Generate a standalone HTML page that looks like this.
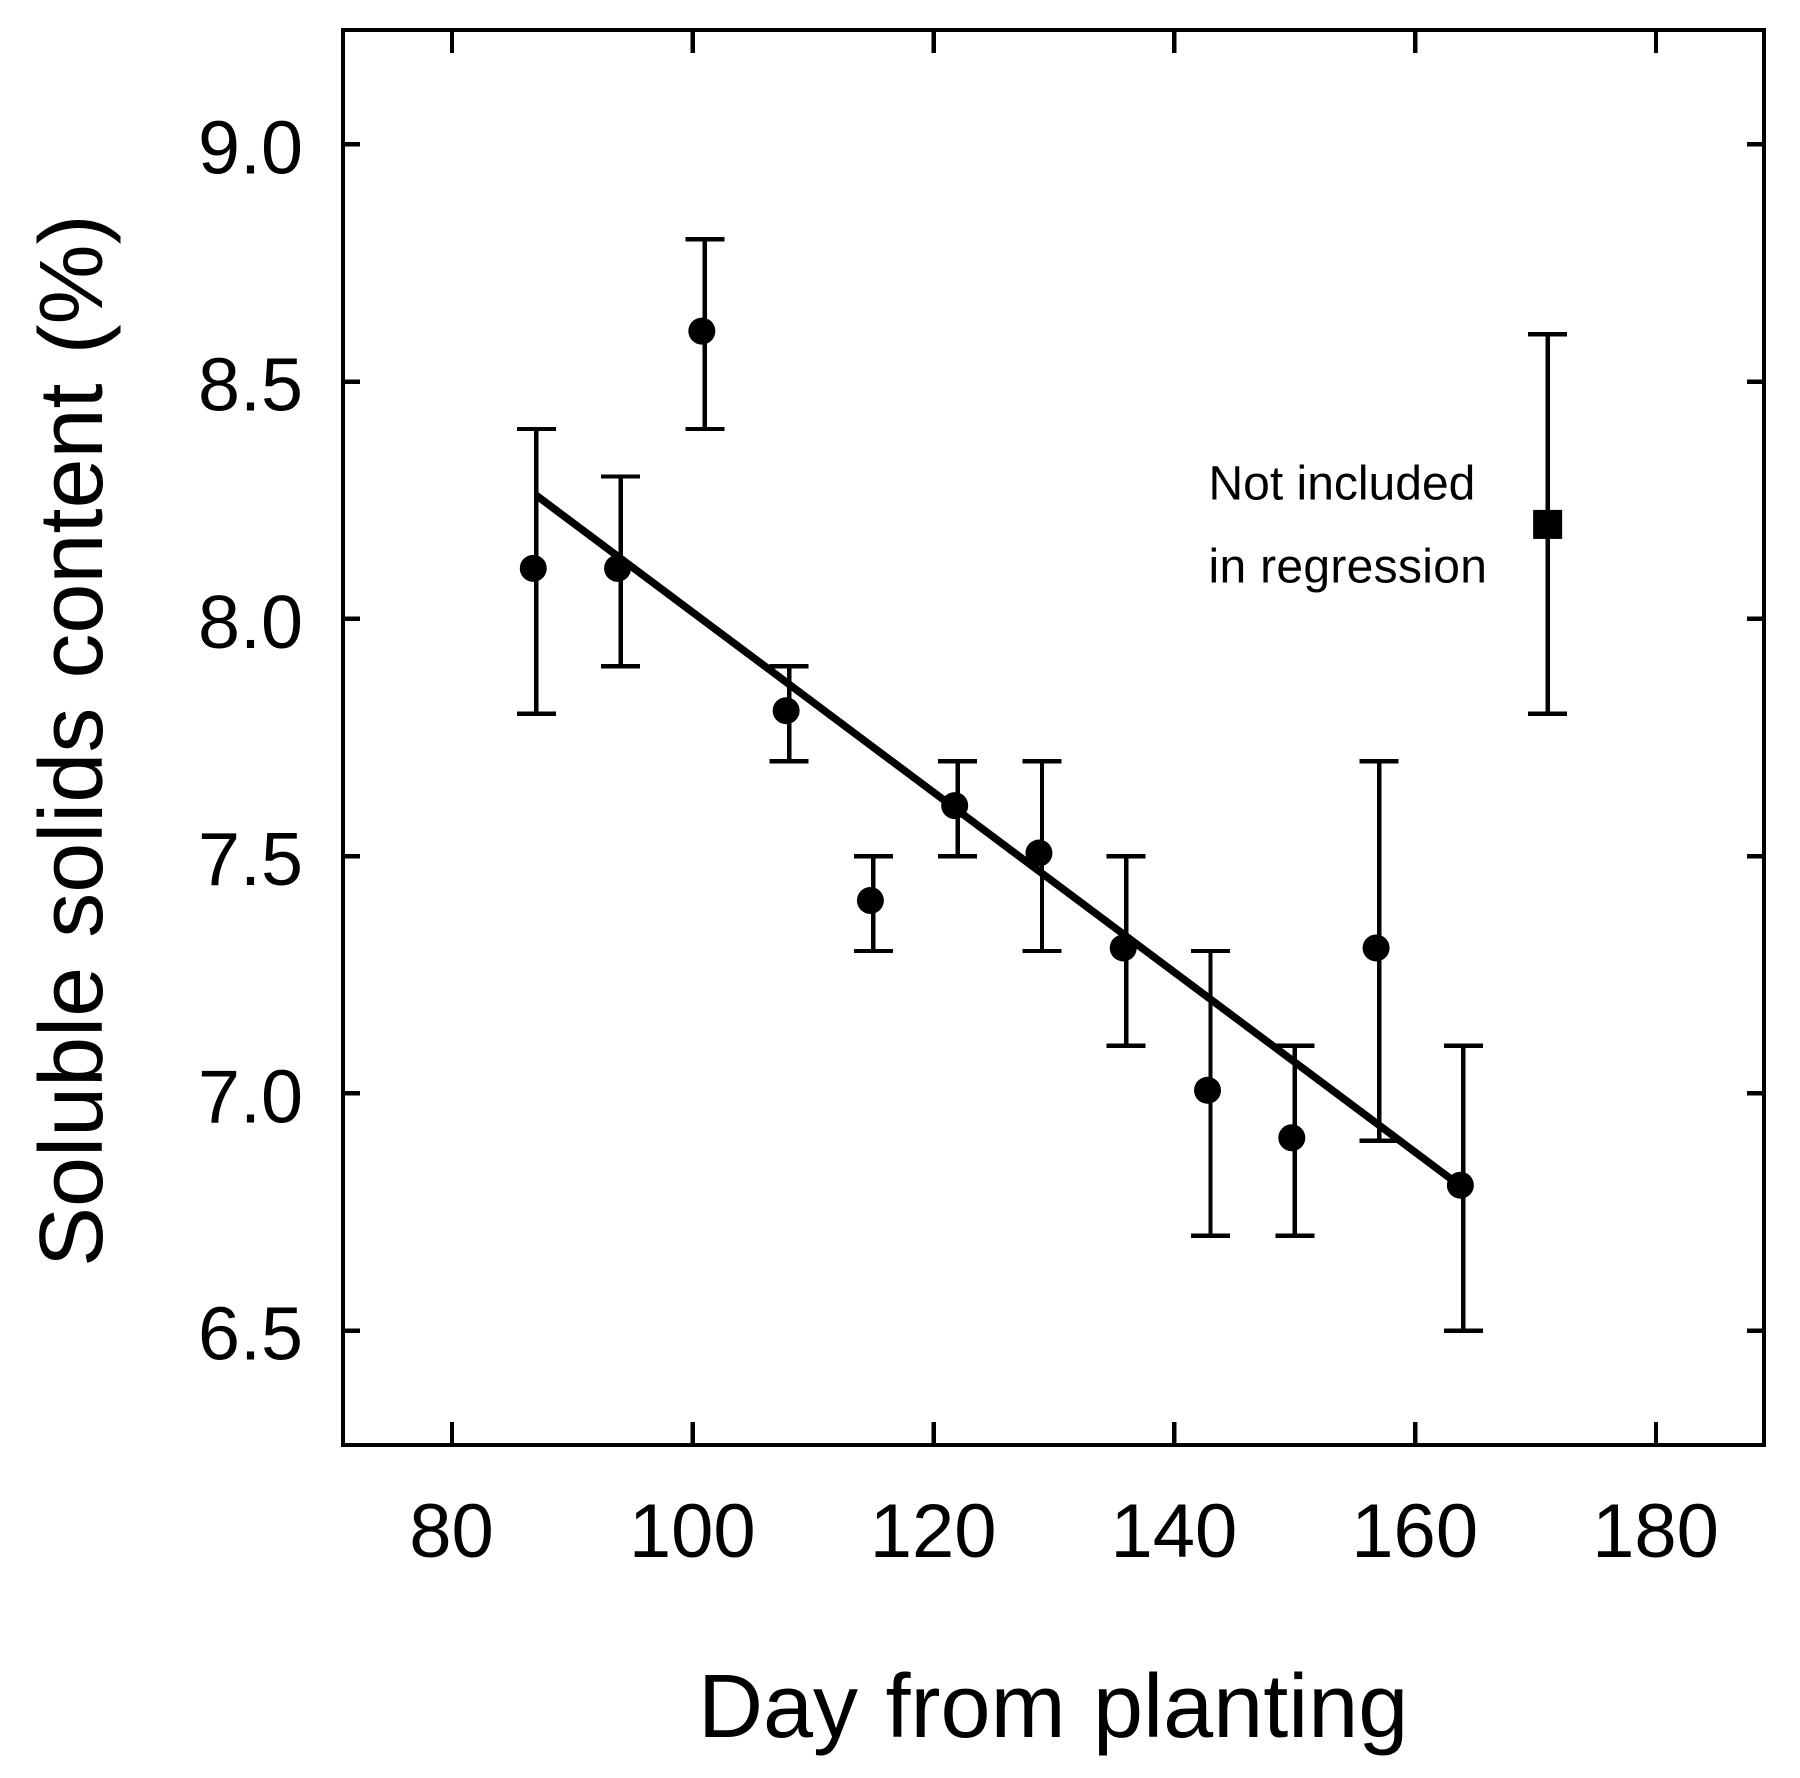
<!DOCTYPE html>
<html lang="en">
<head>
<meta charset="utf-8">
<title>Soluble solids content by day from planting</title>
<style>
html,body{margin:0;padding:0;background:#fff;}
svg{display:block;font-family:"Liberation Sans",Arial,sans-serif;fill:#000;}
</style>
</head>
<body>
<svg id="chart" xmlns="http://www.w3.org/2000/svg" width="1800" height="1778" viewBox="0 0 1800 1778">
<rect x="0" y="0" width="1800" height="1778" fill="#fff"/>
<rect x="343" y="30" width="1421" height="1415" fill="none" stroke="#000" stroke-width="4.4" shape-rendering="crispEdges"/>
<g id="ticks" shape-rendering="crispEdges"></g>
<g id="labels"></g>
<g id="regression"></g>
<g id="points"></g>
<text x="1208.5" y="499.5" font-size="48">Not included</text>
<text x="1208.5" y="582.5" font-size="48" letter-spacing="0.3">in regression</text>
<text x="698" y="1737" font-size="90" word-spacing="2.5">Day from planting</text>
<text transform="translate(102,1267) rotate(-90)" font-size="90" word-spacing="4">Soluble solids content (%)</text>
</svg>
<script>
const xTicks = [80, 100, 120, 140, 160, 180];
const yTicks = [6.5, 7.0, 7.5, 8.0, 8.5, 9.0];
const yTickLabels = ['6.5', '7.0', '7.5', '8.0', '8.5', '9.0'];
const days = [87, 94, 101, 108, 115, 122, 129, 136, 143, 150, 157, 164];
const solids = [8.1, 8.1, 8.6, 7.8, 7.4, 7.6, 7.5, 7.3, 7.0, 6.9, 7.3, 6.8];
const lowerBounds = [7.8, 7.9, 8.4, 7.7, 7.3, 7.5, 7.3, 7.1, 6.7, 6.7, 6.9, 6.5];
const upperBounds = [8.4, 8.3, 8.8, 7.9, 7.5, 7.7, 7.7, 7.5, 7.3, 7.1, 7.7, 7.1];
const excludedDay = [171];
const excludedSolids = [8.2];
const excludedLower = [7.8];
const excludedUpper = [8.6];
const regressionDays = [87, 164];
const regressionSolids = [8.26, 6.8];

const NS = 'http://www.w3.org/2000/svg';
const xScale = v => 452 + (v - 80) * 12.04;
const yScale = v => 144.3 + (9 - v) * 474.5;

function make(tag, parent, attrs) {
  const el = document.createElementNS(NS, tag);
  for (const k in attrs) el.setAttribute(k, attrs[k]);
  parent.appendChild(el);
  return el;
}
const ticksG = document.getElementById('ticks');
const labelsG = document.getElementById('labels');
const regG = document.getElementById('regression');
const pointsG = document.getElementById('points');
const stroke = {stroke: '#000', 'stroke-width': 4.4, fill: 'none', 'shape-rendering': 'crispEdges'};

xTicks.forEach(t => {
  const x = xScale(t);
  const bottom = make('line', ticksG, {x1: x, x2: x, y1: 1445, y2: 1422, ...stroke});
  
  
  const top = make('line', ticksG, {x1: x, x2: x, y1: 30, y2: 53, ...stroke});
  
  
  const label = make('text', labelsG, {x: x - 0.5, y: 1557, 'font-size': 76, 'text-anchor': 'middle'});
  label.textContent = String(t);
  
  
});

yTicks.forEach((t, i) => {
  const y = yScale(t);
  const left = make('line', ticksG, {x1: 343, x2: 360, y1: y, y2: y, ...stroke});
  
  
  const right = make('line', ticksG, {x1: 1764, x2: 1747, y1: y, y2: y, ...stroke});
  
  
  const label = make('text', labelsG, {x: 303, y: y + 29, 'font-size': 75.5, 'text-anchor': 'end'});
  label.textContent = yTickLabels[i];
  
  
});

const regLine = make('line', regG, {
  x1: xScale(regressionDays[0]), y1: yScale(regressionSolids[0]),
  x2: xScale(regressionDays[1]), y2: yScale(regressionSolids[1]),
  stroke: '#000', 'stroke-width': 7.5
});



function errorBar(day, lo, hi) {
  const x = xScale(day), yLo = yScale(lo), yHi = yScale(hi);
  const stem = make('line', pointsG, {x1: x, x2: x, y1: yLo, y2: yHi, ...stroke});
  
  
  const capLo = make('line', pointsG, {x1: x - 19.5, x2: x + 19.5, y1: yLo, y2: yLo, ...stroke});
  
  
  const capHi = make('line', pointsG, {x1: x - 19.5, x2: x + 19.5, y1: yHi, y2: yHi, ...stroke});
  
  
}

days.forEach((d, i) => {
  errorBar(d, lowerBounds[i], upperBounds[i]);
  const dot = make('circle', pointsG, {cx: xScale(d) - 3, cy: yScale(solids[i]) - 3, r: 13.5, fill: '#000'});
  
  
});

excludedDay.forEach((d, i) => {
  errorBar(d, excludedLower[i], excludedUpper[i]);
  const sq = make('rect', pointsG, {x: xScale(d) - 14.5, y: yScale(excludedSolids[i]) - 14, width: 29, height: 29, fill: '#000'});
  
  
});
</script>
</body>
</html>
